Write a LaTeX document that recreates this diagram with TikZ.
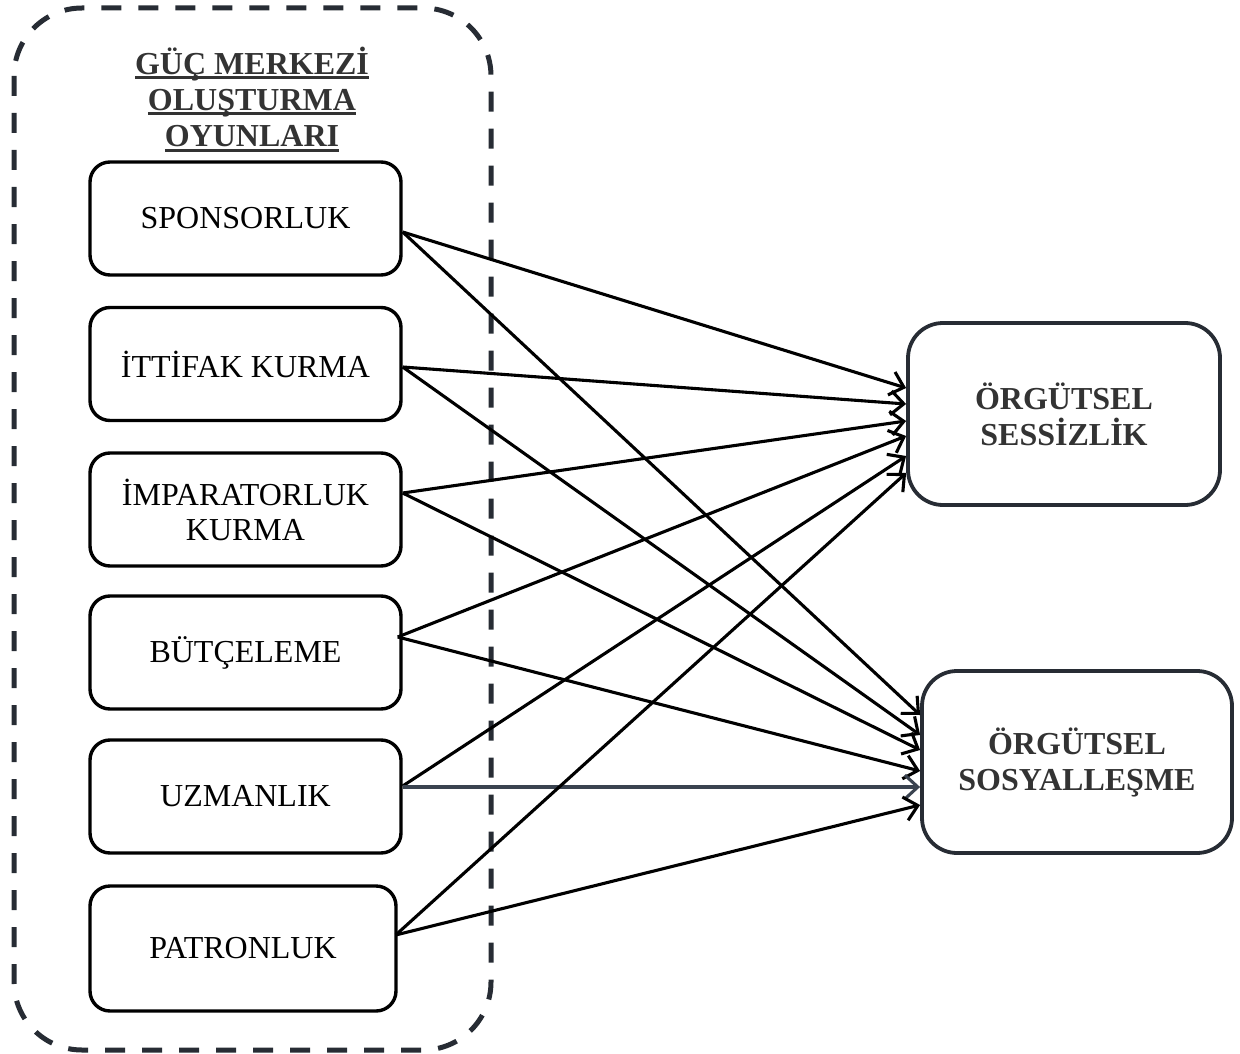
\documentclass[tikz,border=0pt]{standalone}
\usepackage{fontspec}
\setmainfont{Liberation Serif}
\usetikzlibrary{arrows.meta}
\definecolor{framecol}{HTML}{272C34}
\definecolor{titlegray}{HTML}{333333}
\definecolor{slate}{HTML}{3A4350}
\newcommand\myul[1]{\setbox0\hbox{#1}\rlap{\rule[-4.5pt]{\wd0}{3pt}}\box0}
\begin{document}
\begin{tikzpicture}[x=1pt,y=-1pt,
  leftbox/.style={draw=black, line width=3.4pt, rounded corners=20pt, minimum width=311pt, minimum height=113pt, align=center, font=\fontsize{32}{35}\selectfont, inner sep=0pt},
  rightbox/.style={draw=framecol, line width=3.8pt, rounded corners=35pt, minimum width=312pt, minimum height=182pt, align=center, font=\fontsize{32}{36}\selectfont\bfseries, text=titlegray, inner sep=0pt},
  titletext/.style={font=\fontsize{32}{36}\selectfont\bfseries, text=titlegray, anchor=base, inner sep=0pt},
  conn/.style={line width=3.1pt, -{Straight Barb[length=13pt,width=24pt]}},
  frameline/.style={draw=framecol, line width=5pt, dash pattern=on 20pt off 17pt, rounded corners=68pt},
]
\useasboundingbox (0,0) rectangle (1240,1054);
\draw[frameline] (14,8) rectangle (491,1050);

\node[titletext] (t1) at (252,75) {\myul{GÜÇ MERKEZİ}};
\node[titletext] (t2) at (252,111) {\myul{OLUŞTURMA}};
\node[titletext] (t3) at (252,147) {\myul{OYUNLARI}};

\node[leftbox] (sp) at (245.5,218.5) {SPONSORLUK};
\node[leftbox] (it) at (245.5,364) {İTTİFAK KURMA};
\node[leftbox] (im) at (245.5,509.5) {İMPARATORLUK\\KURMA};
\node[leftbox] (bu) at (245.5,652.5) {BÜTÇELEME};
\node[leftbox] (uz) at (245.5,796.5) {UZMANLIK};
\node[leftbox, minimum width=306pt, minimum height=125pt] (pa) at (243,948.5) {PATRONLUK};

\node[rightbox] (ss) at (1064,414) {ÖRGÜTSEL\\SESSİZLİK};
\node[rightbox, minimum width=310pt] (so) at (1077,762) {ÖRGÜTSEL\\SOSYALLEŞME};

\draw[conn] ([yshift=-13.5pt]sp.east) -- ([yshift=26pt]ss.west);
\draw[conn] ([yshift=-13.5pt]sp.east) -- ([yshift=47pt]so.west);
\draw[conn] ([yshift=-3pt]it.east) -- ([yshift=10pt]ss.west);
\draw[conn] ([yshift=-3pt]it.east) -- ([yshift=27pt]so.west);
\draw[conn] ([yshift=16.5pt]im.east) -- ([yshift=-7pt]ss.west);
\draw[conn] ([yshift=16.5pt]im.east) -- ([yshift=12pt]so.west);
\draw[conn] ([xshift=-5pt,yshift=15.5pt]bu.east) -- ([yshift=-22pt]ss.west);
\draw[conn] ([xshift=-5pt,yshift=15.5pt]bu.east) -- ([yshift=-9pt]so.west);
\draw[conn] ([yshift=10.5pt]uz.east) -- ([yshift=-42pt]ss.west);
\draw[conn, draw=slate] ([yshift=9.5pt]uz.east) -- ([yshift=-25pt]so.west);
\draw[conn] ([xshift=-2pt,yshift=13.5pt]pa.east) -- ([yshift=-59pt]ss.west);
\draw[conn] ([xshift=-2pt,yshift=13.5pt]pa.east) -- ([yshift=-43pt]so.west);
\end{tikzpicture}
\end{document}
